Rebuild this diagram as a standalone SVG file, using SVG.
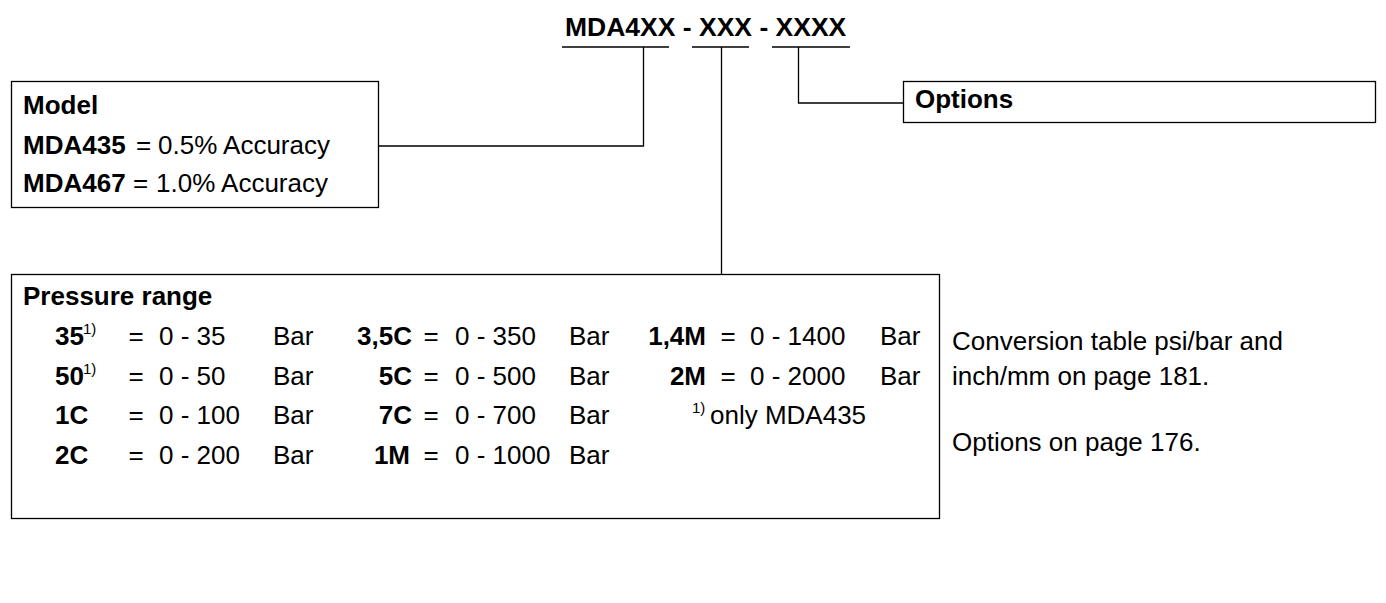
<svg xmlns="http://www.w3.org/2000/svg" width="1386" height="603" viewBox="0 0 1386 603">
<style>
text { font-family: "Liberation Sans", Arial, sans-serif; font-size: 26px; fill: #000; }
.b { font-weight: bold; }
.t { font-size: 26.5px; }
.sup { font-size: 15px; }
.m { text-anchor: middle; }
.e { text-anchor: end; }
.box { fill: #fff; stroke: #000; stroke-width: 1.3; }
.ln { fill: none; stroke: #000; stroke-width: 1.3; }
</style>
<rect width="1386" height="603" fill="#fff"/>
<g id="connectors">
  <line class="ln" x1="562" y1="47" x2="669" y2="47"/>
  <line class="ln" x1="692" y1="47" x2="749" y2="47"/>
  <line class="ln" x1="772" y1="47" x2="850" y2="47"/>
  <polyline class="ln" points="643.5,47 643.5,146 378,146"/>
  <line class="ln" x1="721.5" y1="47" x2="721.5" y2="274.5"/>
  <polyline class="ln" points="798.5,47 798.5,103 903.5,103"/>
</g>
<g id="title">
  <text class="b t" x="565" y="36">MDA4XX - XXX - XXXX</text>
</g>
<g id="model">
  <rect class="box" x="11.5" y="81.5" width="367" height="126"/>
  <text class="b" x="23" y="114">Model</text>
  <text class="b" x="23" y="154">MDA435</text>
  <text x="136" y="154">=</text>
  <text x="158" y="154">0.5% Accuracy</text>
  <text class="b" x="23" y="192">MDA467</text>
  <text x="133" y="192">=</text>
  <text x="156" y="192">1.0% Accuracy</text>
</g>
<g id="options">
  <rect class="box" x="903.5" y="81.5" width="472" height="41"/>
  <text class="b" x="915" y="108">Options</text>
</g>
<g id="pressure">
  <rect class="box" x="11.5" y="274.5" width="928" height="244"/>
  <text class="b" x="23" y="305">Pressure range</text>
  <text class="b" x="55" y="345">35</text><text class="sup" x="83" y="334">1)</text>
  <text class="m" x="136" y="345">=</text><text x="159" y="345">0 - 35</text><text x="273" y="345">Bar</text>
  <text class="b" x="55" y="384.5">50</text><text class="sup" x="83" y="373.5">1)</text>
  <text class="m" x="136" y="384.5">=</text><text x="159" y="384.5">0 - 50</text><text x="273" y="384.5">Bar</text>
  <text class="b" x="55" y="424">1C</text>
  <text class="m" x="136" y="424">=</text><text x="159" y="424">0 - 100</text><text x="273" y="424">Bar</text>
  <text class="b" x="55" y="463.5">2C</text>
  <text class="m" x="136" y="463.5">=</text><text x="159" y="463.5">0 - 200</text><text x="273" y="463.5">Bar</text>

  <text class="b e" x="412" y="345">3,5C</text>
  <text class="m" x="431" y="345">=</text><text x="455" y="345">0 - 350</text><text x="569" y="345">Bar</text>
  <text class="b e" x="412" y="384.5">5C</text>
  <text class="m" x="431" y="384.5">=</text><text x="455" y="384.5">0 - 500</text><text x="569" y="384.5">Bar</text>
  <text class="b e" x="412" y="424">7C</text>
  <text class="m" x="431" y="424">=</text><text x="455" y="424">0 - 700</text><text x="569" y="424">Bar</text>
  <text class="b e" x="410" y="463.5">1M</text>
  <text class="m" x="431" y="463.5">=</text><text x="455" y="463.5">0 - 1000</text><text x="569" y="463.5">Bar</text>

  <text class="b e" x="706" y="345">1,4M</text>
  <text class="m" x="728" y="345">=</text><text x="750" y="345">0 - 1400</text><text x="880" y="345">Bar</text>
  <text class="b e" x="706" y="384.5">2M</text>
  <text class="m" x="728" y="384.5">=</text><text x="750" y="384.5">0 - 2000</text><text x="880" y="384.5">Bar</text>
  <text class="sup" x="692" y="413">1)</text><text x="710" y="424">only MDA435</text>
</g>
<g id="notes">
  <text x="952" y="350">Conversion table psi/bar and</text>
  <text x="952" y="385">inch/mm on page 181.</text>
  <text x="952" y="451">Options on page 176.</text>
</g>
</svg>
